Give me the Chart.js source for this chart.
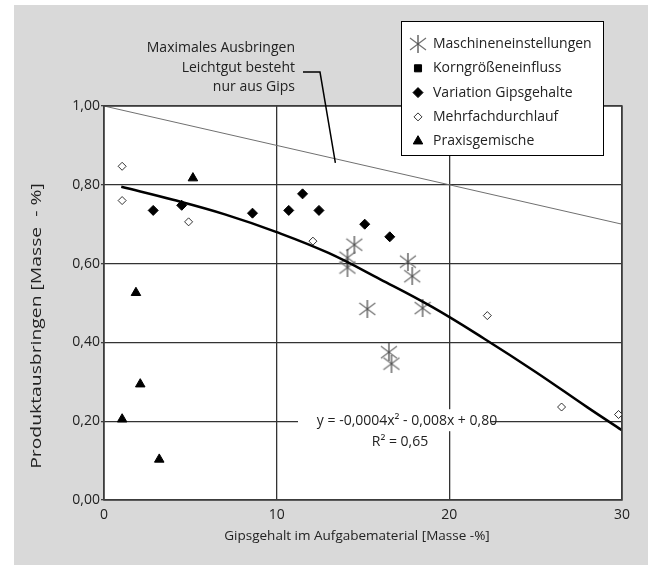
<!DOCTYPE html>
<html>
<head>
<meta charset="utf-8">
<script src="https://cdn.jsdelivr.net/npm/chart.js@4"></script>
<style>
  html, body { margin: 0; padding: 0; background: #fff; }
</style>
</head>
<body>
<canvas id="myChart" width="648" height="565"></canvas>
<script>
// values
var maschX = [14.5, 14.1, 14.1, 17.6, 17.85, 15.25, 18.45, 16.5, 16.65];
var maschY = [0.648, 0.615, 0.59, 0.605, 0.568, 0.485, 0.487, 0.375, 0.346];
var kornX = [];
var kornY = [];
var variX = [2.85, 4.5, 8.6, 10.7, 11.5, 12.45, 15.1, 16.55];
var variY = [0.735, 0.748, 0.728, 0.735, 0.777, 0.735, 0.70, 0.668];
var mehrX = [1.05, 1.05, 4.9, 12.1, 22.2, 26.5, 29.8];
var mehrY = [0.847, 0.76, 0.706, 0.657, 0.468, 0.236, 0.217];
var praxX = [5.15, 1.85, 2.1, 1.05, 3.2];
var praxY = [0.817, 0.526, 0.294, 0.205, 0.103];
var trendX = [1, 4, 7, 10, 13, 16, 19, 22, 25, 28, 30];
var trendY = [0.795, 0.762, 0.725, 0.68, 0.627, 0.56, 0.49, 0.41, 0.325, 0.235, 0.177];
var maxX = [0, 30];
var maxY = [1.0, 0.70];
var xTicks = [0, 10, 20, 30];
var yTicks = [0, 0.2, 0.4, 0.6, 0.8, 1.0];
var seriesNames = ['Maschineneinstellungen', 'Korngrößeneinfluss', 'Variation Gipsgehalte', 'Mehrfachdurchlauf', 'Praxisgemische'];
var xTitle = 'Gipsgehalt im Aufgabematerial [Masse -%]';
var yTitle = 'Produktausbringen [Masse  - %]';
var noteLines = ['Maximales Ausbringen', 'Leichtgut besteht', 'nur aus Gips'];
var eqLine1 = 'y = -0,0004x² - 0,008x + 0,80';
var eqLine2 = 'R² = 0,65';

var FONT = '"Open Sans", sans-serif';

function pts(xs, ys) {
    return xs.map(function (x, i) { return { x: x, y: ys[i] }; });
}

// six-armed asterisk used for the machine settings
function asterisk(size) {
    var c = document.createElement('canvas');
    c.width = size; c.height = size;
    var g = c.getContext('2d');
    var m = size / 2;
    g.lineWidth = 1.2;
    g.strokeStyle = '#707070';
    g.beginPath();
    g.moveTo(1, 3); g.lineTo(size - 1, size - 3);
    g.moveTo(1, size - 3); g.lineTo(size - 1, 3);
    g.stroke();
    g.strokeStyle = '#404040';
    g.beginPath();
    g.moveTo(m, 0); g.lineTo(m, size);
    g.stroke();
    return c;
}
var star = asterisk(18);

var markers = [
    { pointStyle: star, radius: 9, bg: '#000', border: '#000', bw: 1 },
    { pointStyle: 'rect', radius: 5, bg: '#000', border: '#000', bw: 1 },
    { pointStyle: 'rectRot', radius: 5, bg: '#000', border: '#000', bw: 1 },
    { pointStyle: 'rectRot', radius: 4, bg: '#fff', border: '#000', bw: 0.8 },
    { pointStyle: 'triangle', radius: 5.5, bg: '#000', border: '#000', bw: 1 }
];

var frame = {
    id: 'frame',
    beforeDraw: function (chart) {
        var ctx = chart.ctx, a = chart.chartArea;
        ctx.save();
        ctx.fillStyle = '#fff';
        ctx.fillRect(0, 0, chart.width, chart.height);
        ctx.fillStyle = '#d9d9d9';
        ctx.fillRect(14, 5, chart.width - 14, chart.height - 5);
        ctx.fillStyle = '#fff';
        ctx.fillRect(a.left, a.top, a.right - a.left, a.bottom - a.top);
        ctx.restore();
    },
    beforeDatasetsDraw: function (chart) {
        // white box behind the equation hides the grid
        var ctx = chart.ctx, ys = chart.scales.y;
        var cy = ys.getPixelForValue(0.2);
        ctx.save();
        ctx.fillStyle = '#fff';
        ctx.fillRect(298, cy - 12, 193, 22);
        ctx.restore();
    },
    afterDatasetsDraw: function (chart) {
        var ctx = chart.ctx, a = chart.chartArea;
        ctx.save();
        ctx.strokeStyle = '#404040';
        ctx.lineWidth = 1.5;
        ctx.strokeRect(a.left, a.top, a.right - a.left, a.bottom - a.top);
        ctx.restore();
    },
    afterDraw: function (chart) {
        var ctx = chart.ctx, a = chart.chartArea;
        var xs = chart.scales.x, ys = chart.scales.y;
        ctx.save();
        ctx.fillStyle = '#222';
        ctx.font = '14px ' + FONT;
        ctx.textBaseline = 'middle';

        // note about the max line
        ctx.textAlign = 'right';
        ctx.fillText(noteLines[0], 295, 48);
        ctx.fillText(noteLines[1], 295, 68);
        ctx.fillText(noteLines[2], 295, 87);
        ctx.strokeStyle = '#000';
        ctx.lineWidth = 1.5;
        ctx.beginPath();
        ctx.moveTo(303, 72);
        ctx.lineTo(320, 72);
        var px = xs.getPixelForValue(13.4);
        ctx.lineTo(px, ys.getPixelForValue(1 - 0.01 * 13.4) + 4);
        ctx.stroke();

        // equation
        ctx.textAlign = 'center';
        ctx.fillText(eqLine1, 407, ys.getPixelForValue(0.2));
        ctx.fillText(eqLine2, 400, ys.getPixelForValue(0.2) + 21);

        // axis titles
        ctx.font = '13.5px ' + FONT;
        ctx.fillText(xTitle, 357, 536);
        ctx.translate(37, 326);
        ctx.rotate(-Math.PI / 2);
        ctx.scale(1.38, 1);
        ctx.font = '14px ' + FONT;
        ctx.fillText(yTitle, 0, 0);
        ctx.restore();

        // legend box
        ctx.save();
        ctx.fillStyle = '#fff';
        ctx.fillRect(401, 21, 202, 134);
        ctx.strokeStyle = '#000';
        ctx.lineWidth = 1;
        ctx.strokeRect(401.5, 21.5, 202, 134);
        ctx.font = '14px ' + FONT;
        ctx.textBaseline = 'middle';
        ctx.textAlign = 'left';
        for (var i = 0; i < 5; i++) {
            var ly = 44 + i * 24.3;
            var m = markers[i];
            ctx.fillStyle = m.bg;
            ctx.strokeStyle = m.border;
            ctx.lineWidth = m.bw;
            Chart.helpers.drawPoint(ctx, { pointStyle: m.pointStyle, radius: m.radius, rotation: 0, borderWidth: m.bw }, 418, ly);
            ctx.fillStyle = '#222';
            ctx.fillText(chart.data.datasets[i].label, 433, ly);
        }
        ctx.restore();
    }
};

var sets = [];
var xsList = [maschX, kornX, variX, mehrX, praxX];
var ysList = [maschY, kornY, variY, mehrY, praxY];
for (var i = 0; i < 5; i++) {
    sets.push({
        label: seriesNames[i],
        data: pts(xsList[i], ysList[i]),
        pointStyle: markers[i].pointStyle,
        pointRadius: markers[i].radius,
        backgroundColor: markers[i].bg,
        borderColor: markers[i].border,
        borderWidth: markers[i].bw,
        showLine: false,
        order: 2
    });
}
sets.push({
    label: 'Trend',
    data: pts(trendX, trendY),
    showLine: true,
    pointRadius: 0,
    borderColor: '#000',
    borderWidth: 2.5,
    tension: 0.4,
    order: 1
});
sets.push({
    label: 'Maximal',
    data: pts(maxX, maxY),
    showLine: true,
    pointRadius: 0,
    borderColor: '#707070',
    borderWidth: 1,
    order: 3
});

var ctx = document.getElementById('myChart').getContext('2d');
var chart = new Chart(ctx, {
    type: 'scatter',
    data: { datasets: sets },
    options: {
        responsive: false,
        devicePixelRatio: 1,
        animation: false,
        layout: { padding: { left: 0, right: 26, top: 106, bottom: 0 } },
        plugins: { legend: { display: false }, tooltip: { enabled: false } },
        scales: {
            x: {
                type: 'linear',
                min: 0, max: 30,
                afterFit: function (s) { s.height = 65; },
                afterBuildTicks: function (s) { s.ticks = xTicks.map(function (v) { return { value: v }; }); },
                border: { display: false },
                grid: { color: '#333', lineWidth: 1.3, tickColor: 'transparent', tickLength: 4 },
                ticks: { font: { family: FONT, size: 14 }, color: '#222', padding: 3, maxRotation: 0 }
            },
            y: {
                type: 'linear',
                min: 0, max: 1,
                afterFit: function (s) { s.width = 104; },
                afterBuildTicks: function (s) { s.ticks = yTicks.map(function (v) { return { value: v }; }); },
                border: { display: false },
                grid: { color: '#333', lineWidth: 1.3, tickColor: '#404040', tickLength: 3 },
                ticks: {
                    font: { family: FONT, size: 14 }, color: '#222', padding: 1,
                    callback: function (v) { return v.toFixed(2).replace('.', ','); }
                }
            }
        }
    },
    plugins: [frame]
});
</script>
</body>
</html>
